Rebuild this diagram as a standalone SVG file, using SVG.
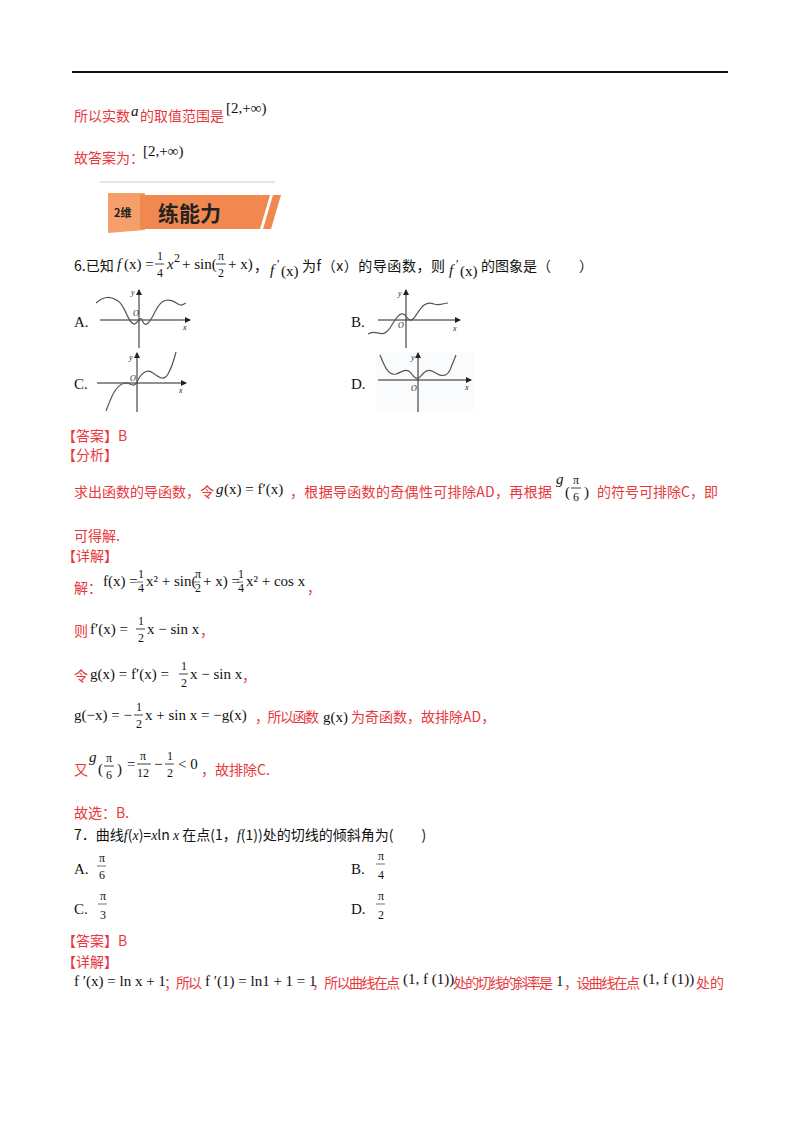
<svg xmlns="http://www.w3.org/2000/svg" width="800" height="1132" viewBox="0 0 800 1132">
<style>
.r{fill:#e8383d;font-family:"Noto Sans CJK SC",sans-serif;font-size:14px}
.k{fill:#111;font-family:"Noto Sans CJK SC",sans-serif;font-size:14px}
.m{fill:#111;font-family:"Liberation Serif",serif;font-size:15px}
.mi{fill:#111;font-family:"Liberation Serif",serif;font-size:15px;font-style:italic}
.s{fill:#111;font-family:"Liberation Serif",serif;font-size:12px}
.ax{stroke:#222;stroke-width:1;fill:none}
.cv{stroke:#555;stroke-width:1.2;fill:none}
.lb{fill:#222;font-family:"Liberation Serif",serif;font-size:8px;font-style:italic}
</style>
<defs><marker id="ar" markerWidth="6" markerHeight="6" refX="5" refY="3" orient="auto"><path d="M0,0 L6,3 L0,6 Z" fill="#222"/></marker></defs>
<rect width="800" height="1132" fill="#fff"/>
<line x1="72" y1="72" x2="728" y2="72" stroke="#111" stroke-width="2"/>
<text x="74" y="121" class="r">所以实数</text><text x="131" y="116" class="mi">a</text><text x="140" y="121" class="r">的取值范围是</text>
<text x="226" y="113" class="m">[2,+∞)</text>
<text x="74" y="163" class="r">故答案为：</text><text x="143" y="156" class="m">[2,+∞)</text>
<g id="banner">
<line x1="100" y1="182" x2="275" y2="182" stroke="#ddd" stroke-width="1.5"/>
<path d="M108,193 L145,193 L145,230 L108,233 Z" fill="#f5a06a"/>
<path d="M140,195 L262,195 L254,229 L140,229 Z" fill="#f08850"/>
<path d="M262,195 L270,195 L260,229 L252,229 Z" fill="#f08850"/>
<path d="M273,195 L281,195 L271,229 L263,229 Z" fill="#f08850"/>
<text x="114" y="217" font-family="Noto Sans CJK SC,sans-serif" font-size="11" font-weight="bold" fill="#222">2维</text>
<text x="158" y="221" font-family="Noto Sans CJK SC,sans-serif" font-size="21" font-weight="bold" fill="#222">练能力</text>
</g>
<g id="q6">
<text x="74" y="271" class="k">6.已知</text>
<text x="117" y="269" class="mi">f</text><text x="124" y="269" class="m">(x) =</text>
<text x="157" y="260" class="s">1</text><line x1="155" y1="264" x2="164" y2="264" stroke="#111" stroke-width="0.8"/><text x="157" y="277" class="s">4</text>
<text x="167" y="269" class="mi">x</text><text x="174" y="262" class="s" font-size="9">2</text><text x="182" y="269" class="m">+ sin(</text>
<text x="218" y="260" class="s">π</text><line x1="216" y1="264" x2="226" y2="264" stroke="#111" stroke-width="0.8"/><text x="218" y="277" class="s">2</text>
<text x="228" y="269" class="m">+ x)</text><text x="254" y="271" class="k">，</text>
<text x="270" y="275" class="mi">f</text><text x="277" y="268" class="s" font-size="9">′</text><text x="281" y="276" class="m">(x)</text>
<text x="302" y="271" class="k" textLength="143">为f（x）的导函数，则</text>
<text x="449" y="275" class="mi">f</text><text x="456" y="268" class="s" font-size="9">′</text><text x="460" y="276" class="m">(x)</text>
<text x="481" y="271" class="k">的图象是（　　）</text>
</g>
<g id="optA">
<text x="74" y="327" class="m">A.</text>
<line x1="100" y1="320" x2="190" y2="320" class="ax" marker-end="url(#ar)"/>
<line x1="139" y1="348" x2="139" y2="290" class="ax" marker-end="url(#ar)"/>
<text x="131" y="295" class="lb">y</text><text x="133" y="316" class="lb">O</text><text x="183" y="330" class="lb">x</text>
<path d="M96,303 C104,296 110,296 118,301 C126,306 128,325 135,324 C139,322 140,314 143,322 C146,328 150,322 156,310 C162,298 170,298 178,304 C182,307 185,303 186,303" class="cv"/>
</g>
<g id="optB">
<text x="351" y="327" class="m">B.</text>
<line x1="378" y1="320" x2="460" y2="320" class="ax" marker-end="url(#ar)"/>
<line x1="406" y1="348" x2="406" y2="290" class="ax" marker-end="url(#ar)"/>
<text x="398" y="296" class="lb">y</text><text x="398" y="328" class="lb">O</text><text x="453" y="331" class="lb">x</text>
<path d="M368,334 C376,328 382,340 390,328 C396,318 400,311 405,315 C409,320 410,322 414,318 C420,310 424,300 434,304 C440,306 444,303 448,303" class="cv"/>
</g>
<g id="optC">
<text x="74" y="389" class="m">C.</text>
<line x1="97" y1="383" x2="186" y2="383" class="ax" marker-end="url(#ar)"/>
<line x1="137" y1="412" x2="137" y2="353" class="ax" marker-end="url(#ar)"/>
<text x="129" y="360" class="lb">y</text><text x="130" y="381" class="lb">O</text><text x="179" y="393" class="lb">x</text>
<path d="M106,411 C112,395 116,385 125,383 C130,382 134,390 138,380 C142,372 148,369 153,373 C160,378 164,381 168,374 C172,367 174,360 176,352" class="cv"/>
</g>
<g id="optD">
<rect x="376" y="352" width="98" height="60" fill="#fafbfd"/>
<text x="351" y="389" class="m">D.</text>
<line x1="378" y1="380" x2="471" y2="380" class="ax" marker-end="url(#ar)"/>
<line x1="418" y1="412" x2="418" y2="353" class="ax" marker-end="url(#ar)"/>
<text x="411" y="360" class="lb">y</text><text x="411" y="391" class="lb">O</text><text x="465" y="390" class="lb">x</text>
<path d="M380,355 C384,365 388,376 396,374 C402,372 406,368 410,372 C414,377 416,380 420,377 C424,372 428,368 434,372 C440,376 446,378 450,370 C452,365 454,360 456,355" class="cv"/>
</g>
<g id="answer6">
<text x="62" y="441" class="r">【答案】B</text>
<text x="62" y="460" class="r">【分析】</text>
<text x="74" y="497" class="r">求出函数的导函数，令</text>
<text x="216" y="494" class="mi">g</text><text x="224" y="494" class="m">(x) = f′(x)</text>
<text x="290" y="497" class="r" textLength="262">，根据导函数的奇偶性可排除AD，再根据</text>
<text x="556" y="484" class="mi">g</text><text x="565" y="497" class="m" font-size="24">(</text>
<text x="573" y="484" class="s">π</text><line x1="571" y1="488" x2="581" y2="488" stroke="#111" stroke-width="0.8"/><text x="573" y="501" class="s">6</text>
<text x="584" y="497" class="m" font-size="24">)</text>
<text x="597" y="497" class="r">的符号可排除C，即</text>
<text x="74" y="541" class="r">可得解.</text>
<text x="62" y="561" class="r">【详解】</text>
<text x="74" y="593" class="r">解：</text>
<text x="103" y="586" class="m" font-size="11">f(x) =</text>
<text x="138" y="578" class="s" font-size="8">1</text><line x1="137" y1="582" x2="143" y2="582" stroke="#111" stroke-width="0.6"/><text x="138" y="592" class="s" font-size="8">4</text>
<text x="146" y="586" class="m" font-size="11">x² + sin(</text>
<text x="195" y="578" class="s" font-size="8">π</text><line x1="194" y1="582" x2="200" y2="582" stroke="#111" stroke-width="0.6"/><text x="195" y="592" class="s" font-size="8">2</text>
<text x="203" y="586" class="m" font-size="11">+ x) =</text>
<text x="238" y="578" class="s" font-size="8">1</text><line x1="237" y1="582" x2="243" y2="582" stroke="#111" stroke-width="0.6"/><text x="238" y="592" class="s" font-size="8">4</text>
<text x="246" y="586" class="m" font-size="11">x² + cos x</text>
<text x="307" y="593" class="r">，</text>
<text x="74" y="636" class="r">则</text>
<text x="90" y="634" class="m">f′(x) =</text>
<text x="138" y="625" class="s">1</text><line x1="136" y1="629" x2="145" y2="629" stroke="#111" stroke-width="0.8"/><text x="138" y="642" class="s">2</text>
<text x="147" y="634" class="m">x − sin x</text><text x="200" y="636" class="r">，</text>
<text x="74" y="681" class="r">令</text>
<text x="90" y="679" class="m">g(x) = f′(x) =</text>
<text x="181" y="670" class="s">1</text><line x1="179" y1="674" x2="188" y2="674" stroke="#111" stroke-width="0.8"/><text x="181" y="687" class="s">2</text>
<text x="190" y="679" class="m">x − sin x</text><text x="242" y="681" class="r">，</text>
<text x="74" y="720" class="m">g(−x) = −</text>
<text x="136" y="711" class="s">1</text><line x1="134" y1="715" x2="143" y2="715" stroke="#111" stroke-width="0.8"/><text x="136" y="728" class="s">2</text>
<text x="145" y="720" class="m">x + sin x = −g(x)</text>
<text x="255" y="722" class="r" textLength="64">，所以函数</text>
<text x="323" y="722" class="m">g(x)</text>
<text x="351" y="722" class="r">为奇函数，故排除AD，</text>
<text x="74" y="775" class="r">又</text>
<text x="89" y="762" class="mi">g</text><text x="98" y="774" class="m" font-size="24">(</text>
<text x="106" y="762" class="s">π</text><line x1="104" y1="766" x2="114" y2="766" stroke="#111" stroke-width="0.8"/><text x="106" y="779" class="s">6</text>
<text x="117" y="774" class="m" font-size="24">)</text>
<text x="127" y="769" class="m">=</text>
<text x="140" y="760" class="s">π</text><line x1="137" y1="764" x2="151" y2="764" stroke="#111" stroke-width="0.8"/><text x="137" y="777" class="s">12</text>
<text x="154" y="769" class="m">−</text>
<text x="167" y="760" class="s">1</text><line x1="165" y1="764" x2="174" y2="764" stroke="#111" stroke-width="0.8"/><text x="167" y="777" class="s">2</text>
<text x="178" y="769" class="m">&lt; 0</text>
<text x="201" y="775" class="r">，故排除C.</text>
<text x="74" y="818" class="r">故选：B.</text>
</g>
<g id="q7">
<text x="74" y="840" class="k">7．曲线<tspan font-style="italic" font-family="Liberation Serif,serif">f</tspan>(<tspan font-style="italic" font-family="Liberation Serif,serif">x</tspan>)=<tspan font-style="italic" font-family="Liberation Serif,serif">x</tspan>ln <tspan font-style="italic" font-family="Liberation Serif,serif">x</tspan> 在点(1，<tspan font-style="italic" font-family="Liberation Serif,serif">f</tspan>(1))处的切线的倾斜角为(　　)</text>
<text x="74" y="874" class="m">A.</text>
<text x="99" y="862" class="s">π</text><line x1="97" y1="866" x2="106" y2="866" stroke="#111" stroke-width="0.6"/><text x="99" y="879" class="s">6</text>
<text x="351" y="874" class="m">B.</text>
<text x="378" y="860" class="s">π</text><line x1="376" y1="864" x2="385" y2="864" stroke="#111" stroke-width="0.6"/><text x="378" y="879" class="s">4</text>
<text x="74" y="914" class="m">C.</text>
<text x="100" y="900" class="s">π</text><line x1="98" y1="904" x2="107" y2="904" stroke="#111" stroke-width="0.6"/><text x="100" y="919" class="s">3</text>
<text x="351" y="914" class="m">D.</text>
<text x="378" y="900" class="s">π</text><line x1="376" y1="904" x2="385" y2="904" stroke="#111" stroke-width="0.6"/><text x="378" y="919" class="s">2</text>
<text x="62" y="946" class="r">【答案】B</text>
<text x="62" y="967" class="r">【详解】</text>
<text x="74" y="986" class="m" font-size="11.5">f ′(x) = ln x + 1</text>
<text x="164" y="988" class="r" font-size="13" textLength="38">；所以</text>
<text x="205" y="986" class="m" font-size="11.5">f ′(1) = ln1 + 1 = 1</text>
<text x="312" y="988" class="r" font-size="13" textLength="88">，所以曲线在点</text>
<text x="403" y="984" class="m" font-size="11.5">(1, f (1))</text>
<text x="453" y="988" class="r" font-size="13" textLength="100">处的切线的斜率是</text>
<text x="556" y="986" class="m" font-size="11.5">1</text>
<text x="564" y="988" class="r" font-size="13" textLength="76">，设曲线在点</text>
<text x="643" y="984" class="m" font-size="11.5">(1, f (1))</text>
<text x="696" y="988" class="r" font-size="13" textLength="28">处的</text>
</g>
</svg>
